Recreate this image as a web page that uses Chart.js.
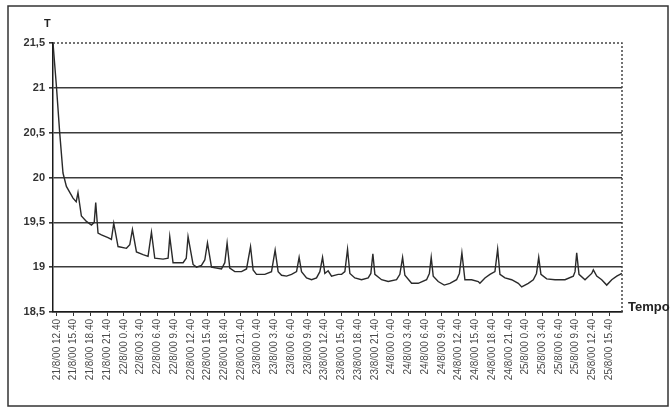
<!DOCTYPE html>
<html>
<head>
<meta charset="utf-8">
<script src="https://cdn.jsdelivr.net/npm/chart.js@4.4.1/dist/chart.umd.min.js"></script>
<style>
  html, body { margin: 0; padding: 0; background: #ffffff; }
  #wrap { width: 672px; height: 411px; position: relative; }
</style>
</head>
<body>
<div id="wrap"><canvas id="c" width="672" height="411"></canvas></div>
<script>
// Elapsed time since the first reading, in hours
const hours = [0.00,0.61,1.20,1.79,2.40,3.59,4.16,4.48,5.09,5.99,6.89,7.39,7.66,8.07,8.68,9.86,10.47,10.89,11.66,13.17,13.76,14.24,14.96,16.14,17.04,17.65,18.24,19.73,20.63,20.93,21.52,23.32,23.89,24.21,25.11,25.72,26.61,27.21,27.69,28.41,30.20,30.80,31.21,31.69,32.59,33.79,34.69,35.41,35.87,36.48,37.97,39.17,39.82,40.36,40.97,41.86,42.76,43.66,44.12,44.55,45.45,46.35,47.24,47.84,48.32,48.73,49.32,49.93,51.12,51.73,52.32,52.80,53.22,54.11,55.31,56.50,56.98,57.34,57.70,58.90,60.09,61.59,62.18,62.67,63.08,64.28,65.47,66.97,67.47,67.80,68.16,69.05,70.13,71.15,72.35,72.85,73.30,73.84,75.04,76.23,76.53,77.43,78.33,79.22,79.71,80.12,81.02,82.22,83.41,84.02,85.20,86.10,86.67,87.07,87.47,88.50,89.99,91.78,93.27,93.58,93.88,94.29,95.37,96.57,96.86,97.47,98.36,99.26,100.16,101.06,101.65,101.96];

// Temperature T
const temps = [21.50,21.02,20.50,20.05,19.90,19.77,19.73,19.83,19.57,19.51,19.47,19.50,19.72,19.38,19.36,19.33,19.31,19.49,19.23,19.21,19.25,19.42,19.17,19.14,19.12,19.39,19.10,19.09,19.10,19.34,19.05,19.05,19.10,19.34,19.03,19.00,19.02,19.08,19.27,19.00,18.98,19.05,19.27,18.99,18.95,18.95,18.98,19.23,18.97,18.92,18.92,18.95,19.19,18.95,18.91,18.90,18.92,18.95,19.11,18.95,18.88,18.86,18.88,18.95,19.11,18.93,18.96,18.90,18.92,18.92,18.95,19.20,18.93,18.88,18.86,18.88,18.93,19.15,18.92,18.86,18.84,18.86,18.92,19.11,18.91,18.82,18.82,18.86,18.93,19.11,18.90,18.84,18.80,18.82,18.86,18.93,19.16,18.86,18.86,18.84,18.82,18.88,18.92,18.95,19.20,18.92,18.88,18.86,18.82,18.78,18.82,18.86,18.93,19.11,18.92,18.87,18.86,18.86,18.90,18.95,19.16,18.92,18.86,18.93,18.97,18.90,18.86,18.80,18.86,18.90,18.92,18.93];

// Time-axis labels, one every 3 hours
const timeLabels = [
  '21/8/00 12.40','21/8/00 15.40','21/8/00 18.40','21/8/00 21.40',
  '22/8/00 0.40','22/8/00 3.40','22/8/00 6.40','22/8/00 9.40','22/8/00 12.40','22/8/00 15.40','22/8/00 18.40','22/8/00 21.40',
  '23/8/00 0.40','23/8/00 3.40','23/8/00 6.40','23/8/00 9.40','23/8/00 12.40','23/8/00 15.40','23/8/00 18.40','23/8/00 21.40',
  '24/8/00 0.40','24/8/00 3.40','24/8/00 6.40','24/8/00 9.40','24/8/00 12.40','24/8/00 15.40','24/8/00 18.40','24/8/00 21.40',
  '25/8/00 0.40','25/8/00 3.40','25/8/00 6.40','25/8/00 9.40','25/8/00 12.40','25/8/00 15.40'
];
const labelStepHours = 3;
const labelStartHours = 0.7;   // 21/8/00 12.40 relative to the first reading
const timeMax = 102;

// Temperature-axis labels
const tempTicks = [18.5, 19, 19.5, 20, 20.5, 21, 21.5];
const tempTickLabels = ['18,5', '19', '19,5', '20', '20,5', '21', '21,5'];

const FONT = "'Liberation Sans', Arial, sans-serif";

// Frame, dotted top/right edges and the two axis titles
const decorations = {
  id: 'decorations',
  afterDraw(chart) {
    const { ctx, chartArea: a } = chart;
    ctx.save();
    ctx.strokeStyle = '#333';
    ctx.lineWidth = 1.5;
    ctx.strokeRect(8, 6, 660, 400);

    ctx.strokeStyle = '#444';
    ctx.lineWidth = 1.5;
    ctx.setLineDash([2, 2]);
    ctx.beginPath();
    ctx.moveTo(a.left, a.top);
    ctx.lineTo(a.right, a.top);
    ctx.lineTo(a.right, a.bottom);
    ctx.stroke();
    ctx.setLineDash([]);

    ctx.fillStyle = '#222';
    ctx.font = 'bold 11px ' + FONT;
    ctx.textAlign = 'left';
    ctx.textBaseline = 'alphabetic';
    ctx.fillText('T', 44, 27);
    ctx.font = 'bold 13px ' + FONT;
    ctx.fillText('Tempo', 628, 311);
    ctx.restore();
  }
};

new Chart(document.getElementById('c'), {
  type: 'line',
  data: {
    datasets: [{
      data: hours.map((h, i) => ({ x: h, y: temps[i] })),
      borderColor: '#2a2a2a',
      borderWidth: 1.4,
      pointRadius: 0,
      tension: 0,
      fill: false
    }]
  },
  options: {
    responsive: false,
    animation: false,
    events: [],
    layout: { padding: { left: 0, right: 50, top: 43, bottom: 0 } },
    plugins: { legend: { display: false }, tooltip: { enabled: false } },
    scales: {
      x: {
        type: 'linear',
        min: 0,
        max: timeMax,
        afterBuildTicks(scale) {
          scale.ticks = timeLabels.map((_, i) => ({ value: labelStartHours + i * labelStepHours }));
        },
        afterFit(scale) { scale.height = 99; },
        grid: { drawOnChartArea: false, drawTicks: true, tickLength: 4, tickColor: '#333', lineWidth: 1 },
        border: { display: true, color: '#1a1a1a', width: 1.5 },
        ticks: {
          autoSkip: false,
          maxRotation: 90,
          minRotation: 90,
          padding: 3,
          color: '#4a4a4a',
          font: { family: FONT, size: 10 },
          callback: (v) => timeLabels[Math.round((v - labelStartHours) / labelStepHours)] || ''
        }
      },
      y: {
        type: 'linear',
        min: 18.5,
        max: 21.5,
        afterBuildTicks(scale) {
          scale.ticks = tempTicks.map(v => ({ value: v }));
        },
        afterFit(scale) { scale.width = 53; },
        grid: {
          drawTicks: true,
          tickLength: 4,
          tickColor: '#333',
          lineWidth: 1.6,
          color: (c) => (c.tick && c.tick.value >= 21.5) ? 'rgba(0,0,0,0)' : '#3c3c3c'
        },
        border: { display: true, color: '#1a1a1a', width: 1.5 },
        ticks: {
          padding: 4,
          color: '#333',
          font: { family: FONT, size: 11, weight: 'bold' },
          callback: (v) => tempTickLabels[tempTicks.indexOf(v)] ?? ''
        }
      }
    }
  },
  plugins: [decorations]
});
</script>
</body>
</html>
